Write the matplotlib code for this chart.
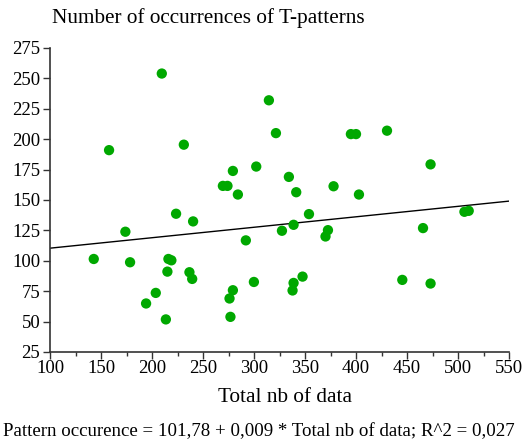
import matplotlib.pyplot as plt
import numpy as np

# data
total_nb = [209.6, 314.6, 321.5, 157.9, 231.2, 279.3, 302.2, 269.5, 274.0, 284.2,
            395.0, 400.0, 430.4, 473.1, 334.2, 341.4, 378.0, 402.9, 223.6, 240.3,
            173.9, 292.0, 327.4, 142.9, 178.5, 216.1, 219.0, 215.1, 236.7, 239.4,
            299.9, 279.3, 276.0, 203.7, 194.2, 213.6, 276.9, 353.9, 338.8, 372.5,
            370.1, 465.7, 506.3, 510.5, 347.6, 338.8, 337.8, 445.4, 473.1]
occurrences = [254.0, 232.0, 205.0, 191.0, 195.5, 173.9, 177.5, 161.6, 161.6, 154.5,
               204.2, 204.2, 207.0, 179.3, 169.0, 156.4, 161.3, 154.5, 138.7, 132.4,
               123.9, 116.8, 124.7, 101.5, 98.8, 101.5, 100.4, 91.1, 90.6, 85.1,
               82.6, 75.8, 69.0, 73.6, 64.9, 51.8, 53.9, 138.4, 129.6, 125.2,
               120.0, 126.9, 140.3, 141.1, 87.0, 81.8, 75.6, 84.3, 81.3]

line_intercept = 101.78
line_slope = 0.086

x_ticks = list(range(100, 551, 50))
x_minor = list(range(125, 551, 50))
y_ticks = list(range(25, 276, 25))

plt.rcParams['font.family'] = ['Liberation Serif', 'DejaVu Serif']

fig = plt.figure(figsize=(5.25, 4.42), dpi=100)
ax = fig.add_axes([50 / 525, 1 - 352 / 442, 459 / 525, 304 / 442])

ax.scatter(total_nb, occurrences, s=55, color='#00a800', marker='o',
           edgecolors='none', zorder=3)

xs = np.array([100, 550])
ax.plot(xs, line_intercept + line_slope * xs, color='black', linewidth=1,
        zorder=2)

ax.set_xlim(100, 550)
ax.set_ylim(25, 275)
ax.set_xticks(x_ticks)
ax.set_xticks(x_minor, minor=True)
ax.set_yticks(y_ticks)

for s in ['top', 'right']:
    ax.spines[s].set_visible(False)
for s in ['left', 'bottom']:
    ax.spines[s].set_color('#333333')
    ax.spines[s].set_linewidth(1.2)

ax.tick_params(axis='x', which='major', direction='out', length=5,
               width=1, colors='#333333', labelcolor='black',
               labelsize=13.5, pad=1)
ax.tick_params(axis='x', which='minor', direction='out', length=3,
               width=1, colors='#333333')
ax.tick_params(axis='y', direction='out', length=5, width=1,
               colors='#333333', labelcolor='black', labelsize=13.5, pad=2)

fig.text(52 / 525, 1 - 18 / 442, 'Number of occurrences of T-patterns',
         fontsize=15.3, ha='left', va='center')
fig.text(285 / 525, 1 - 397 / 442, 'Total nb of data', fontsize=15.3,
         ha='center', va='center')
fig.text(259 / 525, 1 - 432 / 442,
         'Pattern occurence = 101,78 + 0,009 * Total nb of data; R^2 = 0,027',
         fontsize=13.6, ha='center', va='center')

fig.savefig('out.png', dpi=100)
